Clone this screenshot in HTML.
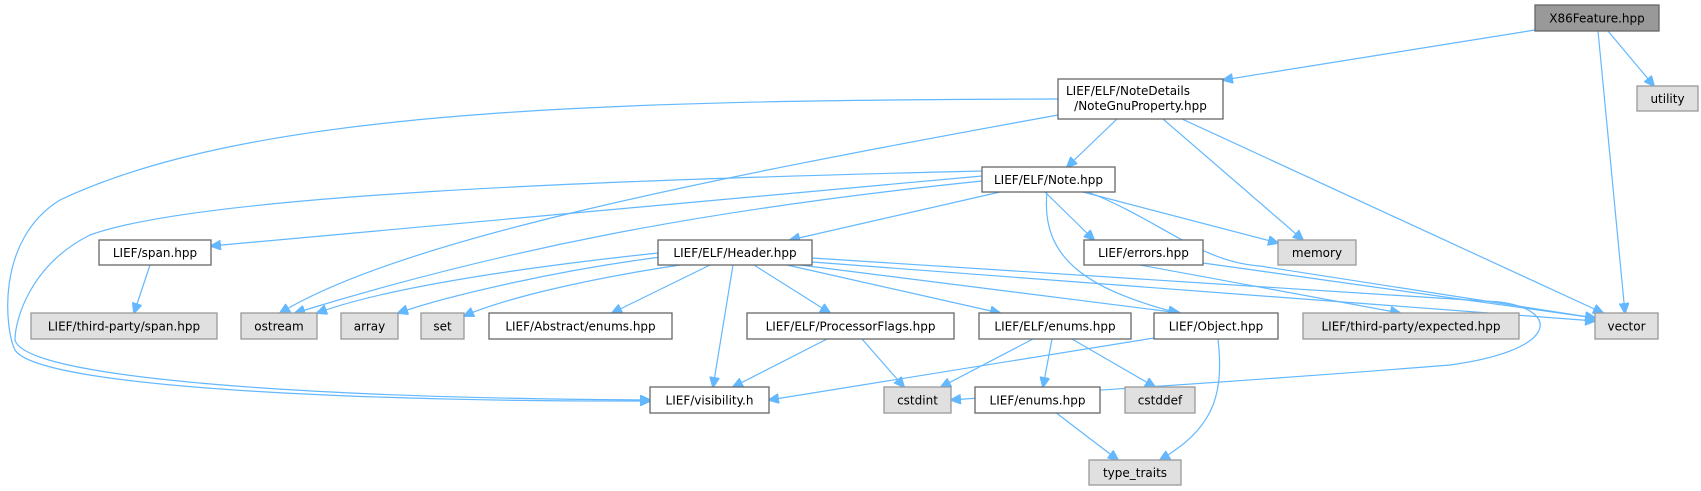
<!DOCTYPE html>
<html><head><meta charset="utf-8"><style>
html,body{margin:0;padding:0;background:#fff;}
svg{display:block;}
text{font-family:"DejaVu Sans","Liberation Sans",sans-serif;font-size:12px;fill:#000;}
.n{fill:#fff;stroke:#666;stroke-width:1.3;}
.g{fill:#e0e0e0;stroke:#999;stroke-width:1.3;}
.e{fill:none;stroke:#63b8ff;stroke-width:1.2;}
</style></head><body>
<svg width="1701" height="491" viewBox="0 0 1701 491" xmlns="http://www.w3.org/2000/svg">
<defs>
<marker id="a" markerWidth="11" markerHeight="10" refX="10" refY="5" orient="auto" markerUnits="userSpaceOnUse">
<path d="M0,0 L11,5 L0,10 z" fill="#63b8ff" stroke="#63b8ff"/>
</marker>
</defs>
<g marker-end="url(#a)">
<path class="e" d="M1535,30 L1223,80"/>
<path class="e" d="M1608,31 L1654,86"/>
<path class="e" d="M1598,31 L1625,313"/>
<path class="e" d="M1058,99 C600,100 250,110 60,200 C-5,240 5,330 15,350 C40,390 400,402 650,401"/>
<path class="e" d="M1058,115 C700,180 400,240 280,313"/>
<path class="e" d="M1117,119 L1067,167"/>
<path class="e" d="M1163,119 L1303,240"/>
<path class="e" d="M1182,119 L1603,313"/>
<path class="e" d="M982,171 C600,180 200,195 90,235 C30,265 15,320 15,340 C25,378 300,398 650,400"/>
<path class="e" d="M982,176 L211,246"/>
<path class="e" d="M982,181 C700,210 500,250 295,313"/>
<path class="e" d="M1000,192 L790,240"/>
<path class="e" d="M1045,192 L1094,240"/>
<path class="e" d="M1083,192 L1278,243"/>
<path class="e" d="M1088,192 C1160,220 1200,262 1260,266 L1595,318"/>
<path class="e" d="M1047,192 C1040,260 1090,290 1178,313"/>
<path class="e" d="M150,265 L134,313"/>
<path class="e" d="M658,253 C500,270 380,290 317,313"/>
<path class="e" d="M661,257 C560,270 450,295 398,313"/>
<path class="e" d="M680,265 C580,280 500,300 464,316"/>
<path class="e" d="M710,265 L612,313"/>
<path class="e" d="M733,265 L713,387"/>
<path class="e" d="M754,265 L830,313"/>
<path class="e" d="M787,265 L1000,313"/>
<path class="e" d="M800,265 L1180,313"/>
<path class="e" d="M812,262 L1595,321"/>
<path class="e" d="M812,258 L1500,302 C1560,310 1560,350 1450,365 C1200,385 1000,396 951,400"/>
<path class="e" d="M1140,265 L1400,313"/>
<path class="e" d="M1203,263 L1595,318"/>
<path class="e" d="M827,339 L733,387"/>
<path class="e" d="M862,339 L904,387"/>
<path class="e" d="M1033,339 L941,387"/>
<path class="e" d="M1052,339 L1043,387"/>
<path class="e" d="M1072,339 L1155,387"/>
<path class="e" d="M1154,338 L769,400"/>
<path class="e" d="M1218,339 C1225,400 1210,430 1160,460"/>
<path class="e" d="M1055,412 L1118,460"/>
</g>
<rect x="1535" y="5" width="124" height="26" fill="#999" stroke="#666" stroke-width="1.3"/>
<text x="1597" y="22.5" text-anchor="middle">X86Feature.hpp</text>
<rect class="g" x="1637" y="86" width="61" height="25"/><text x="1667.5" y="103" text-anchor="middle">utility</text>
<rect class="n" x="1058" y="79" width="165" height="40"/>
<text x="1066" y="95">LIEF/ELF/NoteDetails</text><text x="1140.5" y="110" text-anchor="middle">/NoteGnuProperty.hpp</text>
<rect class="n" x="982" y="167" width="133" height="25"/><text x="1048.5" y="184" text-anchor="middle">LIEF/ELF/Note.hpp</text>
<rect class="n" x="99" y="240" width="112" height="25"/><text x="155" y="257" text-anchor="middle">LIEF/span.hpp</text>
<rect class="n" x="658" y="240" width="154" height="25"/><text x="735" y="257" text-anchor="middle">LIEF/ELF/Header.hpp</text>
<rect class="n" x="1084" y="240" width="119" height="25"/><text x="1143.5" y="257" text-anchor="middle">LIEF/errors.hpp</text>
<rect class="g" x="1278" y="240" width="78" height="25"/><text x="1317" y="257" text-anchor="middle">memory</text>
<rect class="g" x="31" y="313" width="186" height="26"/><text x="124" y="330.5" text-anchor="middle">LIEF/third-party/span.hpp</text>
<rect class="g" x="241" y="313" width="76" height="26"/><text x="279" y="330.5" text-anchor="middle">ostream</text>
<rect class="g" x="341" y="313" width="57" height="26"/><text x="369.5" y="330.5" text-anchor="middle">array</text>
<rect class="g" x="421" y="313" width="43" height="26"/><text x="442.5" y="330.5" text-anchor="middle">set</text>
<rect class="n" x="489" y="313" width="183" height="26"/><text x="580.5" y="330.5" text-anchor="middle">LIEF/Abstract/enums.hpp</text>
<rect class="n" x="747" y="313" width="207" height="26"/><text x="850.5" y="330.5" text-anchor="middle">LIEF/ELF/ProcessorFlags.hpp</text>
<rect class="n" x="979" y="313" width="152" height="26"/><text x="1055" y="330.5" text-anchor="middle">LIEF/ELF/enums.hpp</text>
<rect class="n" x="1154" y="313" width="124" height="26"/><text x="1216" y="330.5" text-anchor="middle">LIEF/Object.hpp</text>
<rect class="g" x="1303" y="313" width="216" height="26"/><text x="1411" y="330.5" text-anchor="middle">LIEF/third-party/expected.hpp</text>
<rect class="g" x="1595" y="313" width="63" height="26"/><text x="1626.5" y="330.5" text-anchor="middle">vector</text>
<rect class="n" x="650" y="387" width="119" height="26"/><text x="709.5" y="404.5" text-anchor="middle">LIEF/visibility.h</text>
<rect class="g" x="884" y="387" width="67" height="26"/><text x="917.5" y="404.5" text-anchor="middle">cstdint</text>
<rect class="n" x="975" y="387" width="125" height="26"/><text x="1037.5" y="404.5" text-anchor="middle">LIEF/enums.hpp</text>
<rect class="g" x="1125" y="387" width="70" height="26"/><text x="1160" y="404.5" text-anchor="middle">cstddef</text>
<rect class="g" x="1089" y="460" width="92" height="25"/><text x="1135" y="477" text-anchor="middle">type_traits</text>
</svg>
</body></html>
